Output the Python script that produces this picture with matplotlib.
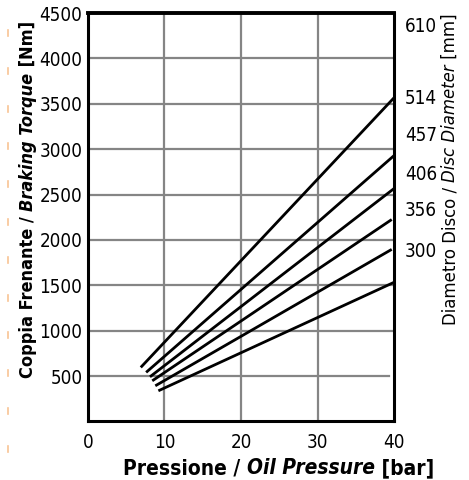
import matplotlib.pyplot as plt
from matplotlib.lines import Line2D

# torque curves, one straight line per disc
pressure_start = [6.9, 7.6, 8.1, 8.4, 8.8, 9.2]
torque_start = [596, 541, 492, 448, 393, 338]
pressure_end = [40.0, 40.0, 40.0, 39.7, 39.7, 40.0]
torque_end = [3566, 2929, 2566, 2225, 1896, 1533]

# right-hand diameter labels and where they sit (in torque units)
diameters = ["610", "514", "457", "406", "356", "300"]
diameter_pos = [4373, 3581, 3174, 2745, 2349, 1898]

x_ticks = [0, 10, 20, 30, 40]
y_ticks = [500, 1000, 1500, 2000, 2500, 3000, 3500, 4000, 4500]

plt.rcParams["font.family"] = ["DejaVu Sans"]
plt.rcParams["font.stretch"] = "condensed"

GRID = "#858585"
TICK_SIZE = 13.5

fig = plt.figure(figsize=(4.69, 4.80), dpi=100)
ax = fig.add_axes([0.1876, 0.1219, 0.6525, 0.8510])

ax.set_xlim(0, 40)
ax.set_ylim(0, 4500)

ax.set_xticks(x_ticks)
ax.set_yticks(y_ticks)
ax.tick_params(axis="y", length=0, labelsize=TICK_SIZE, pad=4)
ax.tick_params(axis="x", length=0, labelsize=TICK_SIZE, pad=8)

for x in x_ticks[1:-1]:
    ax.axvline(x, color=GRID, linewidth=1.6, zorder=1)
for y in y_ticks[:-1]:
    # the 500 line stops just short of the frame
    ax.axhline(y, xmax=0.985 if y == 500 else 1.0,
               color=GRID, linewidth=1.6, zorder=1)

for x0, y0, x1, y1 in zip(pressure_start, torque_start,
                          pressure_end, torque_end):
    ax.plot([x0, x1], [y0, y1], color="black", linewidth=2.0,
            solid_capstyle="butt", zorder=3)

for side in ["left", "bottom", "right"]:
    ax.spines[side].set_linewidth(2.2)
ax.spines["top"].set_linewidth(2.8)

ax2 = ax.twinx()
ax2.set_ylim(ax.get_ylim())
ax2.set_yticks(diameter_pos)
ax2.set_yticklabels(diameters)
ax2.tick_params(length=0, labelsize=TICK_SIZE, pad=8)
for side in ["left", "bottom", "right", "top"]:
    ax2.spines[side].set_visible(False)


def chain_label(pieces, x_px, y_px, size, vertical=False):
    """Write label pieces of differing style one after the other."""
    text, style = pieces[0]
    rot = 90 if vertical else 0
    prev = fig.text(x_px / 469, 1 - y_px / 480, text, rotation=rot,
                    fontsize=size, ha="left", va="bottom", **style)
    anchor = (0, 1) if vertical else (1, 0)
    for text, style in pieces[1:]:
        prev = ax.annotate(text, xy=anchor, xycoords=prev, ha="left",
                           va="bottom", rotation=rot, fontsize=size,
                           annotation_clip=False, **style)


bold = dict(fontweight="bold")
bold_it = dict(fontweight="bold", fontstyle="italic")

chain_label([("Pressione / ", bold), ("Oil Pressure", bold_it),
             (" [bar]", bold)], 123, 478, 15.0)

chain_label([("Coppia Frenante / ", bold), ("Braking Torque", bold_it),
             (" [Nm]", bold)], 19, 378, 13.0, vertical=True)

chain_label([("Diametro Disco / ", dict()),
             ("Disc Diameter", dict(fontstyle="italic")),
             (" [mm]", dict())], 441, 325, 13.2, vertical=True)

# faint orange marks down the left edge of the scan
for i in range(12):
    yc = 1 - (33 + 37.8 * i) / 480
    fig.add_artist(Line2D([8 / 469, 8 / 469], [yc - 3 / 480, yc + 3 / 480],
                          color="#f8c494", linewidth=1.2))

fig.savefig("out.png", dpi=100)
